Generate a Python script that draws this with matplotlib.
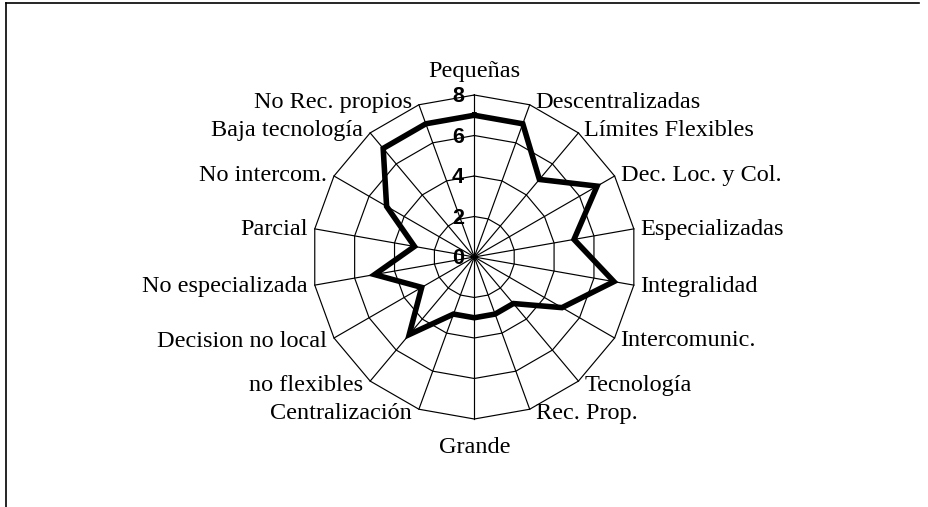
import numpy as np
import matplotlib.pyplot as plt
from matplotlib.lines import Line2D

# categories clockwise from the top
categories = ['Pequeñas', 'Descentralizadas', 'Límites Flexibles', 'Dec. Loc. y Col.',
              'Especializadas', 'Integralidad', 'Intercomunic.', 'Tecnología',
              'Rec. Prop.', 'Grande', 'Centralización', 'no flexibles',
              'Decision no local', 'No especializada', 'Parcial', 'No intercom.',
              'Baja tecnología', 'No Rec. propios']
values = [7, 7, 5, 7, 5, 7, 5, 3, 3, 3, 3, 5, 3, 5, 3, 5, 7, 7]
ring_values = [0, 2, 4, 6, 8]
r_max = 8

W, H = 929, 507
fig = plt.figure(figsize=(W / 100, H / 100), dpi=100)
fig.patch.set_facecolor('white')

# polar axes centred at (474, 257) px with radius 162 px
cx, cy, rad = 474.3, 257.0, 162.0
ax = fig.add_axes([(cx - rad) / W, (H - cy - rad) / H, 2 * rad / W, 2 * rad / H],
                  projection='polar')
ax.set_theta_zero_location('N')
ax.set_theta_direction(-1)
ax.set_ylim(0, r_max)
ax.set_axis_off()

angles = np.linspace(0, 2 * np.pi, len(categories), endpoint=False)
closed = np.append(angles, angles[0])

# polygon grid and spokes
for r in ring_values[1:]:
    ax.plot(closed, [r] * len(closed), color='black', lw=0.85, clip_on=False)
for a in angles:
    ax.plot([a, a], [0, r_max], color='black', lw=0.85, clip_on=False)

# the series
ax.plot(closed, values + values[:1], color='black', lw=4.0,
        solid_joinstyle='miter', clip_on=False, zorder=3)

# radial tick labels
for r in ring_values:
    ax.annotate(str(r), xy=(0, r), xytext=(-7.5, -5.3), textcoords='offset points',
                ha='right', va='baseline', fontsize=15.5, fontweight='bold',
                family='Liberation Sans', annotation_clip=False, zorder=4)

# category labels
pt = 0.72  # px -> points at 100 dpi
for a, name in zip(angles, categories):
    s, c = np.sin(a), np.cos(a)
    if abs(s) < 0.01:
        ha = 'center'
        dx = 0
        dy = 18.3 if c > 0 else -34
    else:
        ha = 'left' if s > 0 else 'right'
        dx = 6 if s > 0 else -7
        dy = -(6.5 - 4 * c)
    ax.annotate(name, xy=(a, r_max), xytext=(dx * pt, dy * pt),
                textcoords='offset points', ha=ha, va='baseline',
                fontsize=17.5, family='Liberation Serif', annotation_clip=False)

# border lines (top and left only)
fig.add_artist(Line2D([6.5 / W, 919 / W], [1 - 3.3 / H] * 2,
                      transform=fig.transFigure, color='black', lw=1.2))
fig.add_artist(Line2D([6.5 / W] * 2, [0, 1 - 3.3 / H],
                      transform=fig.transFigure, color='black', lw=1.2))

fig.savefig('out.png', dpi=100)
